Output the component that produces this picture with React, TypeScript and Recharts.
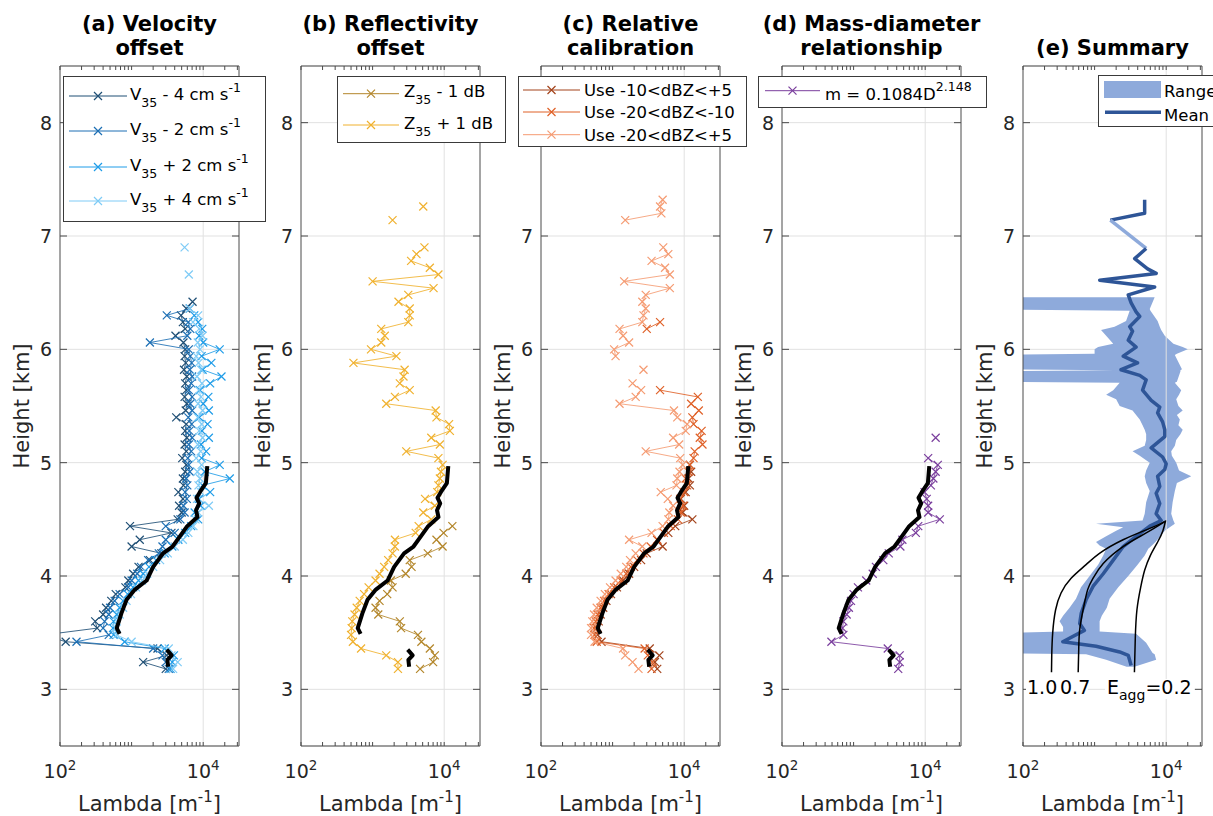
import React from 'react';
import { ScatterChart, ComposedChart, Scatter, Area, XAxis, YAxis, CartesianGrid, ReferenceLine } from 'recharts';

const N = null;
const FONT = '"DejaVu Sans", "Liberation Sans", Arial, sans-serif';
const TXT = '#262626';
const BOX = '#4a4a4a';
const GRID = '#e1e1e1';

// ---------- axes ----------
const xTickValues = [100, 200, 300, 400, 500, 600, 700, 800, 900, 1000, 2000, 3000, 4000, 5000, 6000, 7000, 8000, 9000, 10000, 20000, 30000];
const xLabelled = [100, 10000];
const yTickValues = [3, 4, 5, 6, 7, 8];
const X_DOMAIN: [number, number] = [100, 31623];
const Y_DOMAIN: [number, number] = [2.5, 8.5];
const panelLefts = [60, 301, 541, 782, 1023];

// ---------- shared height grid (km) ----------
const heights: number[] = [
  3.18, 3.24, 3.30, 3.36, 3.42, 3.48, 3.54, 3.60, 3.66, 3.72,
  3.78, 3.84, 3.90, 3.96, 4.02, 4.08, 4.14, 4.20, 4.26, 4.32,
  4.38, 4.44, 4.50, 4.56, 4.62, 4.68, 4.74, 4.80, 4.86, 4.92,
  4.98, 5.04, 5.10, 5.16, 5.22, 5.28, 5.34, 5.40, 5.46, 5.52,
  5.58, 5.64, 5.70, 5.76, 5.82, 5.88, 5.94, 6.00, 6.06, 6.12,
  6.18, 6.24, 6.30, 6.36, 6.42, 6.48, 6.54, 6.60, 6.66, 6.72,
  6.78, 6.84, 6.90, 6.96, 7.02, 7.08, 7.14, 7.20, 7.26, 7.32,
];

// ---------- (a) velocity offset ----------
const vMinus4 = [
  3000, 1450, 3100, 2300, 120, 60, 330, 310, 400, 440,
  520, 600, 820, 900, 1050, 1250, 1800, 2600, 1000, 1300,
  3600, 950, 4400, 5000, 4600, 5200, 4500, 5300, 5200, 5600,
  5800, 5100, 5800, 5500, 5900, 5600, 5800, 4200, 5700, 5900,
  5500, 5800, 5600, 5900, 5400, 5700, 5500, 5600, 5300, 4100,
  5600, 5200, 4900, 5800, 7100, N, N, N, N, N,
  N, N, N, N, N, N, N, N, N, N,
];
const vMinus2 = [
  3300, 3000, 2700, 2000, 170, 480, 400, 420, 480, 500,
  580, 680, 900, 1000, 1200, 1350, 1700, 2400, 2700, 3000,
  4000, 3000, 4800, 5500, 5300, 5900, 5600, 6000, 5800, 6500,
  6300, 6100, 6800, 6300, 7000, 6400, 6900, 6200, 7000, 6600,
  7000, 6300, 6800, 7000, 6500, 6900, 6600, 6300, 1800, 6000,
  6600, 6200, 3100, 6500, N, N, N, N, N, N,
  N, N, N, N, N, N, N, N, N, N,
];
const vPlus2 = [
  3500, 3700, 3900, 2900, 800, 560, 550, 560, 620, 680,
  760, 880, 1050, 1250, 1450, 1750, 2200, 2900, 3700, 4500,
  5600, 6800, 8500, 7600, 9200, 8700, 12500, 9800, 23500, 10500,
  17000, 9500, 11000, 9300, 12000, 9600, 11500, 8800, 12000, 10000,
  11800, 9000, 12500, 18000, 9800, 13000, 9500, 17000, 10000, 8800,
  9700, 8500, 7500, N, N, N, N, N, N, N,
  N, N, N, N, N, N, N, N, N, N,
];
const vPlus4 = [
  3800, 4400, 3600, 3300, 1000, 620, 600, 620, 680, 760,
  850, 980, 1150, 1400, 1650, 2000, 2500, 3200, 4000, 5200,
  6200, 7300, 7800, 8500, 12000, 8200, 9300, 8600, 9000, 8300,
  9500, 8000, 9200, 8400, 9800, 8800, 9500, 8400, 9800, 8500,
  9300, 8700, 9600, 8200, 9400, 8600, 8000, 9000, 8400, 9800,
  8800, 7200, 8500, 6500, N, N, N, N, 6300, N,
  N, N, 5500, N, N, N, N, N, N, N,
];

// ---------- (b) reflectivity offset ----------
const zMinus1 = [
  4600, 7000, 7400, 6300, 4800, 4300, 2500, 2400, 1200, 1100,
  1250, 1600, 1900, 1800, 2900, 3500, 3300, 5900, 9500, 7800,
  9800, 13000, N, N, N, N, N, N, N, N,
  N, N, N, N, N, N, N, N, N, N,
  N, N, N, N, N, N, N, N, N, N,
  N, N, N, N, N, N, N, N, N, N,
  N, N, N, N, N, N, N, N, N, N,
];
const zPlus1 = [
  2260, 2260, 1550, 690, 530, 500, 510, 520, 560, 600,
  660, 760, 880, 1100, 1250, 1450, 1650, 1900, 2050, 2050,
  4000, 4400, 6600, 5100, 7400, 5400, 8000, 8300, 8700, 9000,
  9500, 8300, 2950, 8700, 6600, 12000, 11700, 7800, 7600, 1550,
  2050, 3300, 2400, 2700, 2800, 540, 2150, 950, 1320, 1480,
  1320, 3150, 3300, 3300, 2300, 3150, 7100, 1000, 8300, 6300,
  3450, 4100, 5300, N, N, N, 1900, N, 5100, N,
];

// ---------- (c) relative calibration ----------
const calA = [
  4200, 3900, 4500, 3300, 700, 620, 600, 640, 680, 740,
  820, 950, 1150, 1400, 1700, 2000, 2500, 3000, 5000, 4200,
  6000, 7500, 13000, 9500, 10000, 9000, 10500, 12000, 11500, 12500,
  12000, N, N, N, N, N, N, N, N, N,
  N, N, N, N, N, N, N, N, N, N,
  N, N, N, N, N, N, N, N, N, N,
  N, N, N, N, N, N, N, N, N, N,
];
const calB = [
  3500, 3600, 3100, 2800, 600, 560, 550, 580, 620, 680,
  760, 880, 1050, 1300, 1550, 1800, 2200, 2700, 3400, 4200,
  5200, 6500, 8200, 9000, 9600, 8800, 10000, 11000, 10500, 11500,
  12000, 13500, 14000, 18000, 16500, 17500, 13500, 13000, 16000, 12500,
  15500, 4600, N, N, N, N, N, N, N, N,
  3000, 4600, N, N, N, N, N, N, N, N,
  N, N, N, N, N, N, N, N, N, N,
];
const calC = [
  2300, 1900, 1500, 1400, 560, 500, 500, 520, 550, 600,
  680, 780, 920, 1100, 1300, 1550, 1750, 2100, 2600, 1700,
  3500, 5000, 6000, 6200, 7000, 5900, 4700, 7800, 8000, 8600,
  9500, 8800, 2900, 8500, 7000, 10500, 11000, 8000, 7200, 1250,
  2100, 2500, 1900, N, 2700, N, 1100, 1050, 1700, 1400,
  1250, 2600, 2700, 2900, 2600, 2900, 6300, 1450, 6300, 5400,
  3500, 6000, 5100, N, N, N, 1500, 4800, 4600, 5000,
];

// ---------- (d) mass-diameter ----------
const massDiam = [
  4200, 4400, 4400, 3000, 490, 720, 700, 720, 800, 860,
  920, 1000, 1150, 1500, 1850, 2050, 2600, 3100, 4500, 4800,
  7400, 8000, 16000, 11000, 11000, 10500, 9800, 12000, 13000, 14000,
  15000, 11000, N, N, 14000, N, N, N, N, N,
  N, N, N, N, N, N, N, N, N, N,
  N, N, N, N, N, N, N, N, N, N,
  N, N, N, N, N, N, N, N, N, N,
];

// ---------- black reference profile (a)-(d) ----------
const refUpperH = [4.97, 4.82, 4.74, 4.69, 4.64, 4.58, 4.52, 4.44, 4.35, 4.26, 4.20, 4.08, 3.96, 3.88, 3.79, 3.67, 3.54, 3.49];
const refUpperL = [11400, 10900, 8970, 8070, 8790, 7940, 8320, 5980, 4720, 3730, 2750, 2000, 1620, 1110, 850, 720, 620, 680];
const refLowerH = [3.35, 3.30, 3.26, 3.20];
const refLowerL = [3090, 3630, 3160, 3240];

// ---------- (e) summary ----------
const bandH = [3.20, 3.26, 3.31, 3.32, 3.41, 3.49, 3.51, 3.55, 3.60, 3.65, 3.72, 3.80, 3.90, 4.00, 4.10, 4.18, 4.24, 4.27, 4.30, 4.35, 4.40, 4.43, 4.46, 4.49, 4.55, 4.65, 4.75, 4.82, 4.88, 4.93, 5.00, 5.06, 5.10, 5.15, 5.20, 5.25, 5.29, 5.33, 5.38, 5.42, 5.46, 5.50, 5.56, 5.60, 5.64, 5.705, 5.715, 5.805, 5.815, 5.825, 5.95, 5.96, 6.00, 6.02, 6.05, 6.12, 6.17, 6.20, 6.25, 6.34, 6.355, 6.46];
const bandLo = [2800, 1450, 760, 20, 20, 20, 363, 363, 324, 363, 447, 550, 646, 851, 1120, 1320, 1450, 1175, 1047, 1450, 2000, 2510, 1047, 4680, 5010, 5250, 5890, 5250, 5010, 5250, 5890, 4270, 3390, 5010, 5250, 5250, 5010, 4680, 4270, 3800, 3390, 2240, 2000, 1450, 1820, 2240, 20, 20, 1900, 20, 20, 1000, 1000, 1120, 1820, 1450, 1230, 1900, 2750, 3090, 20, 20];
const bandHi = [3600, 7240, 6900, 6460, 5250, 3800, 1175, 1175, 1175, 1260, 1480, 1620, 2140, 2950, 3980, 5010, 5620, 6310, 7080, 8320, 9550, 11200, 13200, 12600, 11750, 12300, 13200, 14100, 22400, 15100, 13800, 12000, 11750, 13200, 13800, 15800, 17000, 14800, 15500, 14100, 17000, 14800, 13800, 15100, 16200, 13200, 14100, 15800, 15800, 16600, 13200, 14100, 20000, 17000, 12600, 9550, 8510, 8130, 7590, 6030, 5890, 6900];

const meanTopH = [7.32, 7.20, 7.14];
const meanTopL = [5000, 5000, 1660];
const meanGapH = [7.14, 6.89];
const meanGapL = [1660, 5250];
const meanMainH = [6.89, 6.80, 6.71, 6.67, 6.61, 6.55, 6.48, 6.41, 6.33, 6.29, 6.20, 6.16, 6.08, 6.02, 5.94, 5.88, 5.82, 5.77, 5.73, 5.64, 5.55, 5.49, 5.44, 5.36, 5.29, 5.23, 5.13, 5.05, 4.99, 4.94, 4.88, 4.79, 4.73, 4.64, 4.55, 4.49, 4.44, 4.35, 4.26, 4.14, 4.02, 3.91, 3.79, 3.67, 3.58, 3.52, 3.42, 3.38, 3.33, 3.30, 3.21];
const meanMainL = [5250, 3630, 5500, 7240, 1180, 6900, 2950, 3240, 3800, 4270, 3090, 3390, 2950, 3800, 2510, 3980, 2340, 4270, 5250, 4680, 6170, 8130, 7590, 8910, 9550, 9550, 6170, 8910, 10000, 9550, 7590, 8130, 7240, 8130, 7240, 8510, 5890, 3800, 2510, 1820, 1320, 955, 760, 650, 620, 720, 360, 1050, 2240, 2950, 3240];

const eagg10H = [4.48, 4.42, 4.32, 4.20, 4.10, 3.98, 3.85, 3.70, 3.50, 3.30, 3.15];
const eagg10L = [9550, 5900, 2500, 1170, 760, 470, 340, 285, 260, 252, 250];
const eagg07H = [4.48, 4.38, 4.26, 4.11, 3.98, 3.88, 3.72, 3.53, 3.35, 3.15];
const eagg07L = [9550, 5250, 2500, 1320, 950, 800, 700, 620, 600, 590];
const eagg02H = [4.49, 4.40, 4.30, 4.18, 4.05, 3.90, 3.70, 3.45, 3.15];
const eagg02L = [9800, 9000, 7600, 6000, 5000, 4400, 3900, 3700, 3600];

// ---------- colours ----------
const C_VM4 = '#1f4f75';
const C_VM2 = '#1c6fb4';
const C_VP2 = '#1e9ce8';
const C_VP4 = '#7ecbf6';
const C_ZM1 = '#b3862a';
const C_ZP1 = '#f0b12e';
const C_CA = '#a3431b';
const C_CB = '#df6027';
const C_CC = '#f59b72';
const C_MD = '#7a3e9d';
const RANGE = '#8eaadb';
const MEAN = '#2e5597';

// ---------- helpers ----------
type Pt = { h: number; x: number };
function segments(hs: number[], vals: (number | null)[]): Pt[][] {
  const out: Pt[][] = [];
  let cur: Pt[] = [];
  hs.forEach((h, i) => {
    const v = vals[i];
    if (v == null) {
      if (cur.length) out.push(cur);
      cur = [];
    } else cur.push({ h, x: v });
  });
  if (cur.length) out.push(cur);
  return out;
}
function pts(hs: number[], vals: number[]): Pt[] {
  return hs.map((h, i) => ({ h, x: vals[i] }));
}

const xShape = (color: string) => (p: any) => {
  const { cx, cy } = p;
  if (typeof cx !== 'number' || typeof cy !== 'number' || isNaN(cx) || isNaN(cy)) return <g />;
  const s = 4;
  return (
    <path d={`M${cx - s},${cy - s}L${cx + s},${cy + s}M${cx - s},${cy + s}L${cx + s},${cy - s}`} stroke={color} strokeWidth={1.2} fill="none" />
  );
};
const noShape = () => <g />;

const BottomTick = (p: any) => {
  const { x, y, payload } = p;
  const v = payload.value;
  const lab = xLabelled.includes(v);
  return (
    <g>
      <line x1={x} x2={x} y1={y} y2={y - 4} stroke={BOX} strokeWidth={1} />
      {lab && (
        <text x={x} y={y + 32} textAnchor="middle" fontSize={19} fontFamily={FONT} fill={TXT}>
          10<tspan dy={-8} fontSize={13.5}>{String(Math.round(Math.log10(v)))}</tspan>
        </text>
      )}
    </g>
  );
};
const TopTick = (p: any) => {
  const { x, y } = p;
  return <line x1={x} x2={x} y1={y} y2={y + 4} stroke={BOX} strokeWidth={1} />;
};
const LeftTick = (p: any) => {
  const { x, y, payload } = p;
  return (
    <g>
      <line x1={x} x2={x + 7} y1={y} y2={y} stroke={BOX} strokeWidth={1} />
      <text x={x - 8} y={y + 7} textAnchor="end" fontSize={19} fontFamily={FONT} fill={TXT}>{payload.value}</text>
    </g>
  );
};
const RightTick = (p: any) => {
  const { x, y } = p;
  return <line x1={x} x2={x - 7} y1={y} y2={y} stroke={BOX} strokeWidth={1} />;
};

// vertical-layout charts put the first y value at the top, so (e) flips its y axes back
function frameAxes(flipY: boolean = false) {
  return [
    <CartesianGrid key="grid" horizontal vertical={false} stroke={GRID} />,
    <ReferenceLine key="gridx" x={10000} stroke={GRID} />,
    <XAxis key="xb" xAxisId={0} type="number" dataKey="x" scale="log" domain={X_DOMAIN} allowDataOverflow ticks={xTickValues} interval={0}
      orientation="bottom" height={70} axisLine={{ stroke: BOX }} tickLine={false} tickSize={0} tickMargin={0} tick={BottomTick} />,
    <XAxis key="xt" xAxisId="top" type="number" dataKey="x" scale="log" domain={X_DOMAIN} allowDataOverflow ticks={xTickValues} interval={0}
      orientation="top" height={1} axisLine={{ stroke: BOX }} tickLine={false} tickSize={0} tickMargin={0} tick={TopTick} />,
    <YAxis key="yl" yAxisId={0} type="number" dataKey="h" domain={Y_DOMAIN} allowDataOverflow ticks={yTickValues} interval={0} reversed={flipY}
      orientation="left" width={60} axisLine={{ stroke: BOX }} tickLine={false} tickSize={0} tickMargin={0} tick={LeftTick} />,
    <YAxis key="yr" yAxisId="r" type="number" dataKey="h" domain={Y_DOMAIN} allowDataOverflow ticks={yTickValues} interval={0} reversed={flipY}
      orientation="right" width={1} axisLine={{ stroke: BOX }} tickLine={false} tickSize={0} tickMargin={0} tick={RightTick} />,
  ];
}

function markerScatters(id: string, vals: (number | null)[], color: string) {
  return segments(heights, vals).map((seg, i) => (
    <Scatter key={`${id}-${i}`} data={seg} fill={color} isAnimationActive={false}
      line={{ stroke: color, strokeWidth: 1, strokeOpacity: 0.85 }} shape={xShape(color)} />
  ));
}
function lineScatter(id: string, hs: number[], ls: number[], color: string, width: number, joint: any = 'linear') {
  return (
    <Scatter key={id} data={pts(hs, ls)} fill={color} isAnimationActive={false}
      line={{ stroke: color, strokeWidth: width, strokeLinejoin: 'round' }} lineJointType={joint} shape={noShape} />
  );
}

const MARGIN = { top: 65, right: 0, bottom: 0, left: 0 };

type Group = { id: string; vals: (number | null)[]; color: string };
function MarkerPanel({ left, groups }: { left: number; groups: Group[] }) {
  return (
    <div style={{ position: 'absolute', left: left - 60, top: 0 }}>
      <ScatterChart width={240} height={816} margin={MARGIN}>
        {frameAxes()}
        {groups.flatMap((g) => markerScatters(g.id, g.vals, g.color))}
        {lineScatter('refU', refUpperH, refUpperL, '#000', 4)}
        {lineScatter('refL', refLowerH, refLowerL, '#000', 4)}
      </ScatterChart>
    </div>
  );
}

function SummaryPanel({ left }: { left: number }) {
  const band = bandH.map((h, i) => ({ h, lo: bandLo[i], hi: bandHi[i] }));
  return (
    <div style={{ position: 'absolute', left: left - 60, top: 0 }}>
      <ComposedChart layout="vertical" width={240} height={816} margin={MARGIN} data={band}>
        {frameAxes(true)}
        <Area dataKey={(d: any) => [d.lo, d.hi]} type="linear" fill={RANGE} fillOpacity={1} stroke="none" isAnimationActive={false} />
        {lineScatter('mt', meanTopH, meanTopL, MEAN, 3.5)}
        {lineScatter('mg', meanGapH, meanGapL, RANGE, 3.5)}
        {lineScatter('mm', meanMainH, meanMainL, MEAN, 3.5)}
        {lineScatter('e10', eagg10H, eagg10L, '#000', 1.5, 'natural')}
        {lineScatter('e07', eagg07H, eagg07L, '#000', 1.5, 'natural')}
        {lineScatter('e02', eagg02H, eagg02L, '#000', 1.5, 'natural')}
      </ComposedChart>
    </div>
  );
}

// ---------- text overlay (titles, labels, legends) ----------
const titles: [string | null, string][] = [
  ['(a) Velocity', 'offset'],
  ['(b) Reflectivity', 'offset'],
  ['(c) Relative', 'calibration'],
  ['(d) Mass-diameter', 'relationship'],
  [null, '(e) Summary'],
];

function LegendSample({ x1, x2, y, color, width = 1 }: { x1: number; x2: number; y: number; color: string; width?: number }) {
  const mx = (x1 + x2) / 2;
  return (
    <g>
      <line x1={x1} x2={x2} y1={y} y2={y} stroke={color} strokeWidth={width} />
      <path d={`M${mx - 4},${y - 4}L${mx + 4},${y + 4}M${mx - 4},${y + 4}L${mx + 4},${y - 4}`} stroke={color} strokeWidth={1.2} />
    </g>
  );
}

function Overlay() {
  const LF = 16.5;
  const velRows = [
    { y: 96, c: C_VM4, t: ' - 4 cm s' },
    { y: 131, c: C_VM2, t: ' - 2 cm s' },
    { y: 167, c: C_VP2, t: ' + 2 cm s' },
    { y: 201, c: C_VP4, t: ' + 4 cm s' },
  ];
  const refRows = [
    { y: 93.7, c: C_ZM1, t: ' - 1 dB' },
    { y: 125, c: C_ZP1, t: ' + 1 dB' },
  ];
  const calRows = [
    { y: 90, c: C_CA, t: 'Use -10<dBZ<+5' },
    { y: 112, c: C_CB, t: 'Use -20<dBZ<-10' },
    { y: 134.7, c: C_CC, t: 'Use -20<dBZ<+5' },
  ];
  return (
    <svg width={1213} height={816} style={{ position: 'absolute', left: 0, top: 0, pointerEvents: 'none', fontFamily: FONT }}>
      {panelLefts.map((L, i) => {
        const cx = L + 89.5;
        const [t1, t2] = titles[i];
        return (
          <g key={i}>
            {t1 && <text x={cx} y={31} textAnchor="middle" fontSize={21} fontWeight="bold" fill="#000">{t1}</text>}
            <text x={cx} y={55} textAnchor="middle" fontSize={21} fontWeight="bold" fill="#000">{t2}</text>
            <text transform={`translate(${L - 31},406) rotate(-90)`} textAnchor="middle" fontSize={21} fill={TXT}>Height [km]</text>
            <text x={cx} y={811} textAnchor="middle" fontSize={21} fill={TXT}>
              Lambda [m<tspan dy={-9} fontSize={15}>-1</tspan><tspan dy={9}>]</tspan>
            </text>
          </g>
        );
      })}

      {/* (a) legend */}
      <rect x={63.5} y={76.5} width={202} height={145} fill="#fff" stroke="#3a3a3a" strokeWidth={1} />
      {velRows.map((r, i) => (
        <g key={i}>
          <LegendSample x1={69} x2={127} y={r.y} color={r.c} />
          <text x={130} y={r.y + 4} fontSize={LF} fill="#000" style={{ whiteSpace: 'pre' }}>
            V<tspan dy={7} fontSize={12.5}>35</tspan><tspan dy={-7}>{r.t}</tspan><tspan dy={-8} fontSize={12.5}>-1</tspan>
          </text>
        </g>
      ))}

      {/* (b) legend */}
      <rect x={337.5} y={76.5} width={168} height={66} fill="#fff" stroke="#3a3a3a" strokeWidth={1} />
      {refRows.map((r, i) => (
        <g key={i}>
          <LegendSample x1={343} x2={399} y={r.y} color={r.c} />
          <text x={404} y={r.y + 3.5} fontSize={LF} fill="#000" style={{ whiteSpace: 'pre' }}>
            Z<tspan dy={7} fontSize={12.5}>35</tspan><tspan dy={-7}>{r.t}</tspan>
          </text>
        </g>
      ))}

      {/* (c) legend */}
      <rect x={518.5} y={76.5} width={228} height={70} fill="#fff" stroke="#3a3a3a" strokeWidth={1} />
      {calRows.map((r, i) => (
        <g key={i}>
          <LegendSample x1={523} x2={580} y={r.y} color={r.c} />
          <text x={584} y={r.y + 6.3} fontSize={LF} fill="#000">{r.t}</text>
        </g>
      ))}

      {/* (d) legend */}
      <rect x={758.5} y={76.5} width={228} height={31} fill="#fff" stroke="#3a3a3a" strokeWidth={1} />
      <LegendSample x1={765} x2={820} y={90.7} color={C_MD} />
      <text x={825} y={100} fontSize={LF} fill="#000" style={{ whiteSpace: 'pre' }}>
        m = 0.1084D<tspan dy={-9} fontSize={12.5}>2.148</tspan>
      </text>

      {/* (e) legend */}
      <rect x={1098.5} y={75.5} width={140} height={51} fill="#fff" stroke="#3a3a3a" strokeWidth={1} />
      <rect x={1104} y={81} width={57} height={17} fill={RANGE} />
      <line x1={1105} x2={1161} y1={112.3} y2={112.3} stroke={MEAN} strokeWidth={3.5} />
      <text x={1164} y={96.7} fontSize={LF} fill="#000">Range</text>
      <text x={1164} y={120.5} fontSize={LF} fill="#000">Mean</text>

      {/* (e) E_agg labels */}
      <rect x={1026} y={679} width={62} height={18} fill="#fff" />
      <rect x={1105} y={679} width={89} height={20} fill="#fff" />
      <text x={1027} y={694} fontSize={19} fill="#000">1.0</text>
      <text x={1060} y={694} fontSize={19} fill="#000">0.7</text>
      <text x={1107} y={694} fontSize={19} fill="#000" style={{ whiteSpace: 'pre' }}>
        E<tspan dy={6} fontSize={14}>agg</tspan><tspan dy={-6}>=0.2</tspan>
      </text>
    </svg>
  );
}

export default function App() {
  return (
    <div style={{ position: 'absolute', left: 0, top: 0, width: 1213, height: 816, overflow: 'hidden', background: '#fff', fontFamily: FONT }}>
      <MarkerPanel left={panelLefts[0]} groups={[
        { id: 'vm4', vals: vMinus4, color: C_VM4 },
        { id: 'vm2', vals: vMinus2, color: C_VM2 },
        { id: 'vp2', vals: vPlus2, color: C_VP2 },
        { id: 'vp4', vals: vPlus4, color: C_VP4 },
      ]} />
      <MarkerPanel left={panelLefts[1]} groups={[
        { id: 'zm1', vals: zMinus1, color: C_ZM1 },
        { id: 'zp1', vals: zPlus1, color: C_ZP1 },
      ]} />
      <MarkerPanel left={panelLefts[2]} groups={[
        { id: 'ca', vals: calA, color: C_CA },
        { id: 'cb', vals: calB, color: C_CB },
        { id: 'cc', vals: calC, color: C_CC },
      ]} />
      <MarkerPanel left={panelLefts[3]} groups={[
        { id: 'md', vals: massDiam, color: C_MD },
      ]} />
      <SummaryPanel left={panelLefts[4]} />
      <Overlay />
    </div>
  );
}
